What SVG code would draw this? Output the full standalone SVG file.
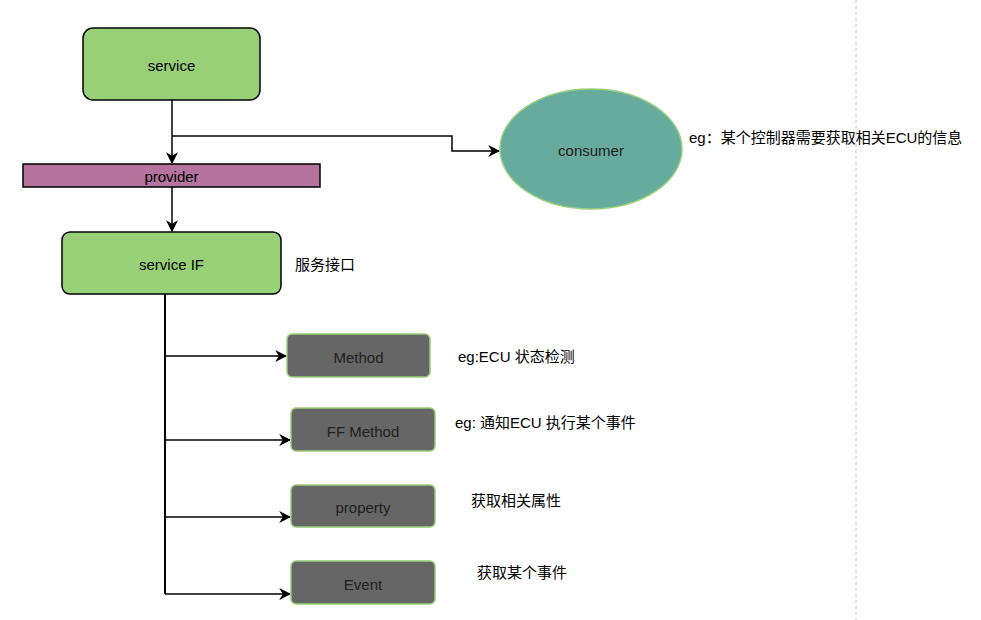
<svg xmlns="http://www.w3.org/2000/svg" width="981" height="620" viewBox="0 0 981 620">
<defs>
<marker id="arr" viewBox="0 0 10 10" refX="9" refY="5" markerWidth="12" markerHeight="12" markerUnits="userSpaceOnUse" orient="auto">
<path d="M0,0 L10,5 L0,10 L3,5 Z" fill="#000"/>
</marker>
<style>
text{font-family:"Liberation Sans","Noto Sans CJK SC",sans-serif;font-size:15px;fill:#000}
.c{text-anchor:middle;dominant-baseline:central}
.green{fill:#97d077;stroke:#000;stroke-width:1.5}
.gray{fill:#666666;stroke:#97d077;stroke-width:1.5}
.gt{fill:#222}
.conn{fill:none;stroke:#000;stroke-width:1.5;marker-end:url(#arr)}
.line{fill:none;stroke:#000;stroke-width:2}
</style>
</defs>
<rect width="981" height="620" fill="#fff"/>
<line x1="856" y1="0" x2="856" y2="620" stroke="#c8c8c8" stroke-dasharray="3,3"/>
<g id="connectors">
<path class="conn" d="M172,100 V163"/>
<path class="conn" d="M172,136 H452 V151 H499"/>
<path class="conn" d="M172,187 V231"/>
<path class="line" d="M165,294 V594"/>
<path class="conn" d="M165,356 H286"/>
<path class="conn" d="M165,440 H290"/>
<path class="conn" d="M165,517 H290"/>
<path class="conn" d="M165,594 H290"/>
</g>
<g id="service"><rect class="green" x="83" y="28" width="177" height="72" rx="10"/><text class="c" x="171.5" y="65">service</text></g>
<g id="provider"><rect x="23" y="164" width="297" height="23" fill="#b5739d" stroke="#000" stroke-width="1.5"/><text class="c" x="171.5" y="176">provider</text></g>
<g id="serviceIF"><rect class="green" x="62" y="232" width="219" height="62" rx="8"/><text class="c" x="171.5" y="264">service IF</text></g>
<g id="consumer"><ellipse cx="591" cy="149" rx="91" ry="60" fill="#67ab9f" stroke="#97d077" stroke-width="1.5"/><text class="c gt" x="591" y="150">consumer</text></g>
<g id="method"><rect class="gray" x="287" y="334" width="143" height="43" rx="5"/><text class="c gt" x="358.5" y="357">Method</text></g>
<g id="ffmethod"><rect class="gray" x="291" y="408" width="144" height="43" rx="5"/><text class="c gt" x="363" y="431">FF Method</text></g>
<g id="property"><rect class="gray" x="291" y="485" width="144" height="42" rx="5"/><text class="c gt" x="363" y="507">property</text></g>
<g id="event"><rect class="gray" x="291" y="561" width="144" height="43" rx="5"/><text class="c gt" x="363" y="584">Event</text></g>
<g id="labels">
<text x="295" y="270">服务接口</text>
<text x="689" y="143">eg：某个控制器需要获取相关ECU的信息</text>
<text x="458" y="362">eg:ECU 状态检测</text>
<text x="455" y="428">eg: 通知ECU 执行某个事件</text>
<text x="471" y="506">获取相关属性</text>
<text x="477" y="578">获取某个事件</text>
</g>
</svg>
